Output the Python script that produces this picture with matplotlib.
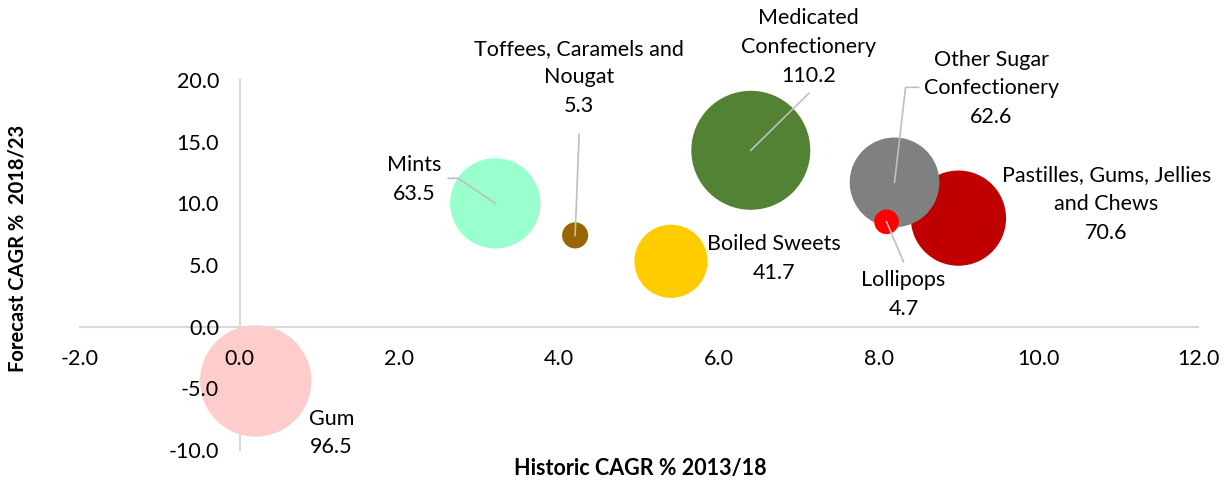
import matplotlib.pyplot as plt
from matplotlib.lines import Line2D
from matplotlib.transforms import IdentityTransform

plt.rcParams['font.family'] = ['Lato', 'DejaVu Sans']

# confectionery sectors: historic vs forecast growth, bubble = market size
categories = ['Gum', 'Mints', 'Toffees, Caramels and\nNougat', 'Boiled Sweets',
              'Medicated\nConfectionery', 'Pastilles, Gums, Jellies\nand Chews',
              'Other Sugar\nConfectionery', 'Lollipops']
historic = [0.2, 3.2, 4.2, 5.4, 6.4, 9.0, 8.2, 8.1]
forecast = [-4.4, 10.0, 7.4, 5.3, 14.3, 8.8, 11.7, 8.5]
market_size = [96.5, 63.5, 5.3, 41.7, 110.2, 70.6, 62.6, 4.7]
colors = ['#FFCCCC', '#99FFCC', '#996600', '#FFCC00',
          '#548235', '#C00000', '#808080', '#FF0000']

# label placement in pixels from the bubble centre
label_offsets = [(76, -52), (-81, 24), (4, 158), (103, 3),
                 (58, 103), (148, 14), (97, 94), (17, -73)]
# leader line vertices (pixels from the bubble centre), ending at the centre
leader_paths = [None,
                [(-47, 25), (-37, 25)],
                [(4, 101)],
                None,
                [(58, 57)],
                None,
                [(24, 95), (11, 95)],
                [(17, -40)]]

fig = plt.figure(figsize=(12.29, 4.83), dpi=100)
ax = fig.add_axes([80 / 1229, 1 - 450 / 483, 1118 / 1229, 370 / 483])

max_diam_pt = 119 * 72 / 100
sizes = [max_diam_pt ** 2 * v / max(market_size) for v in market_size]
ax.scatter(historic, forecast, s=sizes, c=colors, linewidths=0, zorder=3)

ax.set_xlim(-2, 12)
ax.set_ylim(-10, 20)
ax.set_xticks(range(-2, 13, 2))
ax.set_yticks(range(-10, 21, 5))
ax.xaxis.set_major_formatter(plt.FormatStrFormatter('%.1f'))
ax.yaxis.set_major_formatter(plt.FormatStrFormatter('%.1f'))

for side in ['top', 'right']:
    ax.spines[side].set_visible(False)
ax.spines['left'].set_position(('data', 0))
ax.spines['bottom'].set_position(('data', 0))
for side in ['left', 'bottom']:
    ax.spines[side].set_color('#D9D9D9')
    ax.spines[side].set_linewidth(1.5)
    ax.spines[side].set_zorder(2)
# tick labels sit on top of the bubbles, the axis lines underneath
ax.xaxis.set_zorder(4)
ax.yaxis.set_zorder(4)
ax.tick_params(axis='x', length=0, pad=16, labelsize=15.5, labelcolor='black')
ax.tick_params(axis='y', length=0, pad=15, labelsize=15.5, labelcolor='black')

for i, name in enumerate(categories):
    label = name + '\n' + '%.1f' % market_size[i]
    ax.annotate(label, (historic[i], forecast[i]), xytext=label_offsets[i],
                textcoords='offset pixels', ha='center', va='center',
                fontsize=15.5, linespacing=1.55, zorder=5)
    if leader_paths[i] is None:
        continue
    cx, cy = ax.transData.transform((historic[i], forecast[i]))
    pts = leader_paths[i] + [(0, 0)]
    xs = [cx + dx for dx, dy in pts]
    ys = [cy + dy for dx, dy in pts]
    ax.add_artist(Line2D(xs, ys, transform=IdentityTransform(),
                         color='#BFBFBF', lw=1.2, zorder=4))

fig.text(640 / 1229, 1 - 468 / 483, 'Historic CAGR % 2013/18', ha='center', va='center',
         fontsize=15.5, fontweight='bold')
fig.text(18 / 1229, 1 - 248 / 483, 'Forecast CAGR %  2018/23', ha='center', va='center',
         rotation=90, fontsize=14.5, fontweight='bold')

fig.savefig('out.png', dpi=100)
